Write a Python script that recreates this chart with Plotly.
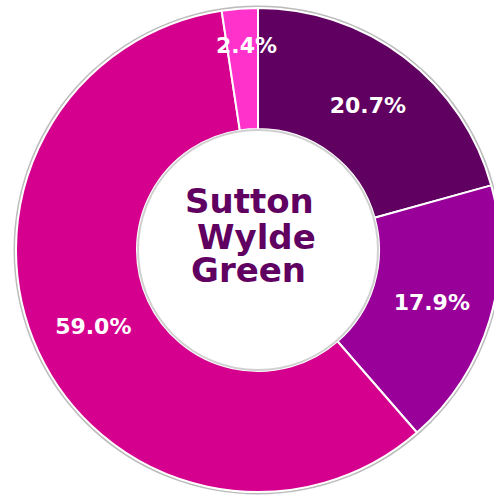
import math
import plotly.graph_objects as go

# Data
categories = ["Group A", "Group B", "Group C", "Group D"]
values = [20.7, 17.9, 59.0, 2.4]
colors = ["#600060", "#990099", "#d6008f", "#ff33cc"]
center_lines = ["Sutton", "Wylde", "Green"]

W, H = 500, 495
ML, MR, MT, MB = 16, 0, 8, 3
PW = W - ML - MR
PH = H - MT - MB

def px_x(px):
    return (px - ML) / PW

def px_y(py):
    return (H - MB - py) / PH

small = [v < 5 for v in values]
labels_text = ["" if s else f"{v:.1f}%" for v, s in zip(values, small)]

fig = go.Figure(
    go.Pie(
        labels=categories,
        values=values,
        text=labels_text,
        textinfo="text",
        textposition="inside",
        insidetextorientation="horizontal",
        hole=0.5,
        sort=False,
        direction="clockwise",
        rotation=0,
        marker=dict(colors=colors, line=dict(color="white", width=2)),
        textfont=dict(family="DejaVu Sans", size=22, color="white", weight="bold"),
        showlegend=False,
        domain=dict(x=[0, 1], y=[0, 1]),
        hoverinfo="skip",
    )
)

cx, cy, R = 258, 250, 242
# outer soft edge
r = R + 1.5
fig.add_shape(
    type="circle", xref="paper", yref="paper", layer="below",
    x0=px_x(cx - r), x1=px_x(cx + r), y0=px_y(cy + r), y1=px_y(cy - r),
    line=dict(color="rgba(160,160,160,0.7)", width=2), fillcolor="rgba(0,0,0,0)",
)
# inner soft edge of hole
r = R * 0.5 - 1
fig.add_shape(
    type="circle", xref="paper", yref="paper", layer="above",
    x0=px_x(cx - r), x1=px_x(cx + r), y0=px_y(cy + r), y1=px_y(cy - r),
    line=dict(color="rgba(170,170,170,0.55)", width=2), fillcolor="rgba(0,0,0,0)",
)

# labels for small slices, placed near outer edge at the slice's mid-angle
total = sum(values)
cum = 0
for v, s in zip(values, small):
    mid = (cum + v / 2) / total * 2 * math.pi
    cum += v
    if s:
        rr = 205
        x = cx + rr * math.sin(mid)
        y = cy - rr * math.cos(mid)
        fig.add_annotation(
            x=px_x(x + 4), y=px_y(y), xref="paper", yref="paper",
            text=f"{v:.1f}%", showarrow=False, xanchor="center", yanchor="middle",
            font=dict(family="DejaVu Sans", size=22, color="white", weight="bold"),
        )

line_pos = [(249, 201), (256, 237), (248, 270)]
for txt, (x, y) in zip(center_lines, line_pos):
    fig.add_annotation(
        x=px_x(x), y=px_y(y), xref="paper", yref="paper",
        text=txt, showarrow=False, xanchor="center", yanchor="middle",
        font=dict(family="DejaVu Sans", size=34, color="#600060", weight="bold"),
    )

fig.update_layout(
    width=W, height=H,
    margin=dict(l=ML, r=MR, t=MT, b=MB, pad=0),
    paper_bgcolor="white", plot_bgcolor="white",
)

fig.write_html(
    "out.html",
    config={"displayModeBar": False},
    post_script="document.body.style.margin='0';document.body.style.overflow='hidden';document.documentElement.style.overflow='hidden';",
)
